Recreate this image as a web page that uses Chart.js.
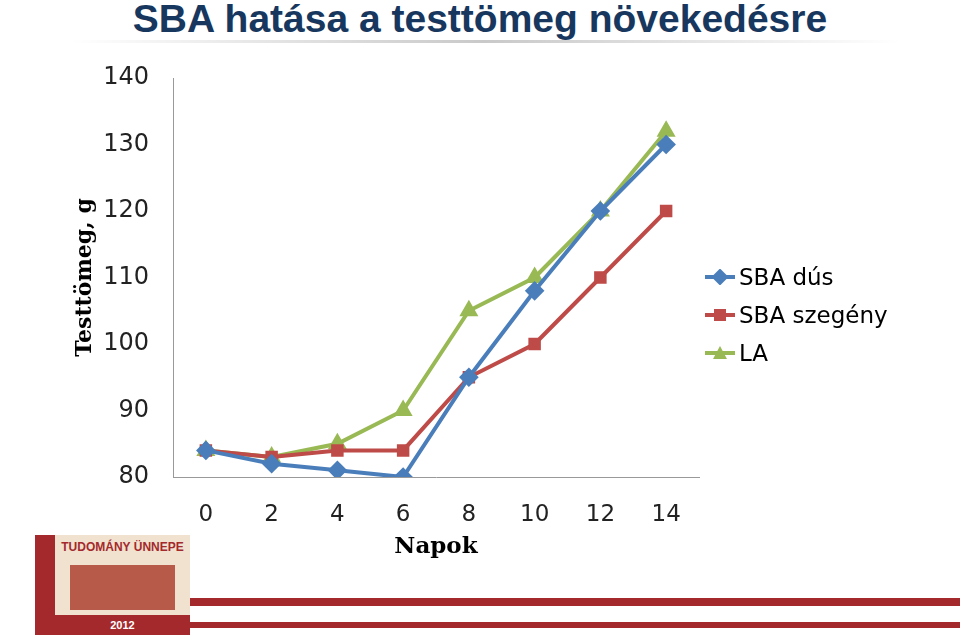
<!DOCTYPE html><html><head><meta charset="utf-8">
<script src="https://cdn.jsdelivr.net/npm/chart.js@4"></script>
<style>body{margin:0;width:960px;height:641px;position:relative;background:#fff;overflow:hidden;font-family:"Liberation Sans",Arial,sans-serif}
#c{position:absolute;left:0;top:0}
.t{position:absolute;left:0;width:960px;top:-3px;text-align:center;font-size:39px;font-weight:bold;color:#17375e}
.lg{position:absolute;left:705px;font-size:23px;color:#000;font-family:"DejaVu Sans",sans-serif}
.lg div{height:38px;display:flex;align-items:center}
.lg svg{margin-right:4px}</style></head><body>
<div class="t">SBA hatása a testtömeg növekedésre</div>
<div style="position:absolute;left:70px;top:40px;width:830px;height:3px;background:linear-gradient(90deg,#fff,#c9c9c9,#fff)"></div>
<canvas id="c" width="960" height="641"></canvas>
<div class="lg" style="top:258px">
<div><svg width="30" height="16"><line x1="0" y1="8" x2="30" y2="8" stroke="#4a7ebb" stroke-width="4"/><rect x="9" y="2" width="12" height="12" fill="#4a7ebb" transform="rotate(45 15 8)"/></svg>SBA dús</div>
<div><svg width="30" height="16"><line x1="0" y1="8" x2="30" y2="8" stroke="#be4b48" stroke-width="4"/><rect x="9" y="2" width="12" height="12" fill="#be4b48"/></svg>SBA szegény</div>
<div><svg width="30" height="16"><line x1="0" y1="8" x2="30" y2="8" stroke="#98b954" stroke-width="4"/><polygon points="15,1 22,14 8,14" fill="#98b954"/></svg>LA</div>
</div>
<div style="position:absolute;left:190px;top:598px;width:770px;height:8px;background:#a3292c"></div>
<div style="position:absolute;left:190px;top:622px;width:770px;height:6px;background:#a3292c"></div>
<div style="position:absolute;left:35px;top:535px;width:20px;height:100px;background:#a3292c"></div>
<div style="position:absolute;left:55px;top:535px;width:135px;height:80px;background:#f1e1cf"></div>
<div style="position:absolute;left:55px;top:540px;width:135px;font-size:12px;font-weight:bold;color:#a3292c;text-align:center">TUDOMÁNY ÜNNEPE</div>
<div style="position:absolute;left:70px;top:565px;width:105px;height:45px;background:#b85a4a"></div>
<div style="position:absolute;left:55px;top:615px;width:135px;height:20px;background:#a3292c;color:#fff;font-size:11px;font-weight:bold;text-align:center;line-height:20px">2012</div>
<script>
const labels=['0','2','4','6','8','10','12','14'];
const sbaDus=[84,82,81,80,95,108,120,130];
const sbaSzegeny=[84,83,84,84,95,100,110,120];
const la=[84,83,85,90,105,110,120,132];
const serif='"DejaVu Serif",serif';
const sans='"DejaVu Sans",sans-serif';
const ds=(d,c,p,r)=>({data:d,borderColor:c,backgroundColor:c,pointStyle:p,pointRadius:r,borderWidth:4,tension:0});
new Chart(document.getElementById('c'),{type:'line',data:{labels,datasets:[
ds(sbaDus,'#4a7ebb','rectRot',7),ds(sbaSzegeny,'#be4b48','rect',6),ds(la,'#98b954','triangle',7)]},
options:{responsive:false,animation:false,layout:{padding:{left:72,top:78,right:261,bottom:80}},
plugins:{legend:{display:false},tooltip:{enabled:false}},
scales:{x:{offset:true,grid:{display:false},border:{color:'#999',width:1},
ticks:{color:'#222',padding:16,font:{size:23,family:sans}},
title:{display:true,text:'Napok',color:'#000',padding:{top:2,bottom:0},font:{size:23,weight:'bold',family:serif}},
afterFit(s){s.height=84}},
y:{min:80,max:140,grid:{display:false,drawTicks:false},border:{color:'#999',width:1},
ticks:{stepSize:10,color:'#222',padding:24,font:{size:24,family:sans}},
title:{display:true,text:'Testtömeg, g',color:'#000',padding:0,font:{size:22,weight:'bold',family:serif}},
afterFit(s){s.width=101}}}}});
</script></body></html>
